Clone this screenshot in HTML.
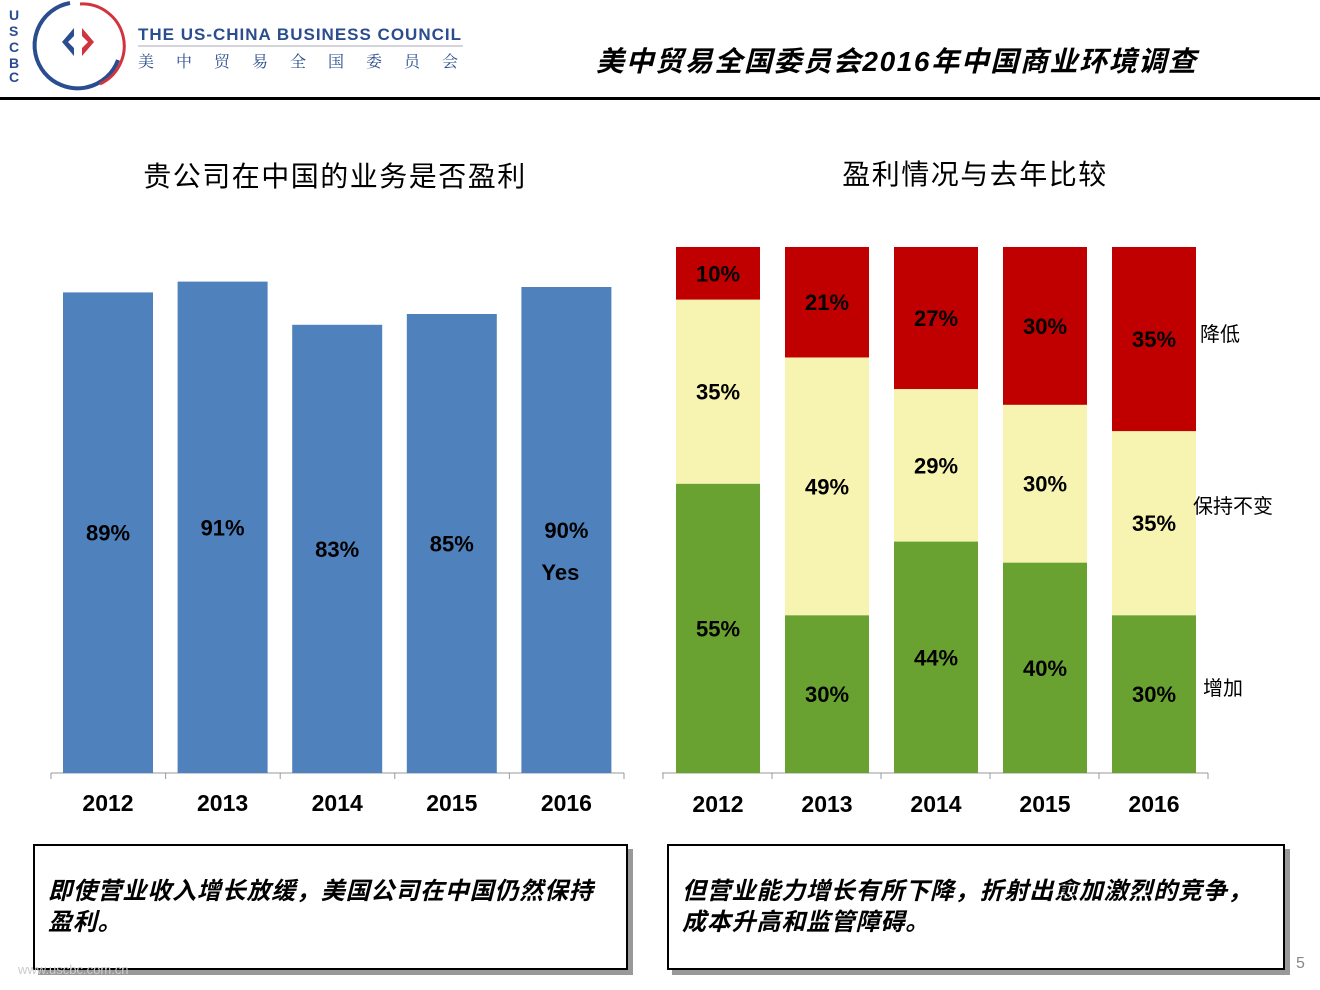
<!DOCTYPE html>
<html><head><meta charset="utf-8"><style>
body{margin:0;width:1320px;height:990px;background:#fff;overflow:hidden;position:relative;font-family:"Liberation Sans","Noto Sans CJK SC",sans-serif}
.abs{position:absolute}
.box{position:absolute;border:2px solid #000;box-shadow:5px 5px 0 #999;background:#fff;font-style:italic;font-weight:bold;font-size:24px;line-height:31px;padding:30px 12px 0 13px;box-sizing:border-box;letter-spacing:0.8px}
</style></head><body>
<div class="abs" style="left:0;top:0;width:470px;height:95px">
<svg width="470" height="95">
<text x="9" y="20" font-size="14" font-weight="bold" fill="#2a4d8f" font-family="Liberation Sans">U</text>
<text x="9" y="36" font-size="14" font-weight="bold" fill="#2a4d8f" font-family="Liberation Sans">S</text>
<text x="9" y="52" font-size="14" font-weight="bold" fill="#2a4d8f" font-family="Liberation Sans">C</text>
<text x="9" y="68" font-size="14" font-weight="bold" fill="#2a4d8f" font-family="Liberation Sans">B</text>
<text x="9" y="82" font-size="14" font-weight="bold" fill="#2a4d8f" font-family="Liberation Sans">C</text>
<path d="M70 3 A43 43 0 1 0 118 60" fill="none" stroke="#2a4d8f" stroke-width="4"/>
<path d="M80 4 A42 42 0 0 1 100 84" fill="none" stroke="#d0343f" stroke-width="3"/>
<path d="M74 28 L62 42 L74 56 L74 48 L68 42 L74 36Z" fill="#2a4d8f"/>
<path d="M82 28 L94 42 L82 56 L82 48 L88 42 L82 36Z" fill="#d0343f"/>
<text x="138" y="40" font-size="17" font-weight="bold" fill="#2a4d8f" font-family="Liberation Sans" letter-spacing="1">THE US-CHINA BUSINESS COUNCIL</text>
<line x1="138" y1="46" x2="463" y2="46" stroke="#aab" stroke-width="1"/>
<text x="138" y="67" font-size="16" fill="#2a4d8f" font-family="Noto Serif CJK SC" letter-spacing="22">美中贸易全国委员会</text>
</svg></div>
<div class="abs" style="left:596px;top:40px;font-size:28px;font-weight:bold;font-style:italic;white-space:nowrap;letter-spacing:1.6px">美中贸易全国委员会2016年中国商业环境调查</div>
<div class="abs" style="left:0;top:97px;width:1320px;height:3px;background:#000"></div>
<div class="abs" style="left:135px;top:155px;width:400px;text-align:center;font-size:28px;letter-spacing:1.5px">贵公司在中国的业务是否盈利</div>
<div class="abs" style="left:775px;top:153px;width:400px;text-align:center;font-size:28px;letter-spacing:1.5px">盈利情况与去年比较</div>
<svg class="abs" style="left:0;top:0" width="1320" height="840" id="ch"></svg>
<div class="box" style="left:33px;top:844px;width:595px;height:126px">即使营业收入增长放缓，美国公司在中国仍然保持<br>盈利。</div>
<div class="box" style="left:667px;top:844px;width:618px;height:126px">但营业能力增长有所下降，折射出愈加激烈的竞争，<br>成本升高和监管障碍。</div>
<div class="abs" style="left:18px;top:962px;font-size:13px;color:#ccc">www.uscbc.com.cn</div>
<div class="abs" style="left:1296px;top:955px;font-size:16px;color:#888">5</div>
<script>
const years=['2012','2013','2014','2015','2016'];
const profitable=[89,91,83,85,90];
const increase=[55,30,44,40,30];
const same=[35,49,29,30,35];
const decrease=[10,21,27,30,35];
const svg=document.getElementById('ch');const NS='http://www.w3.org/2000/svg';
function mk(t,a,txt){const e=document.createElementNS(NS,t);for(const k in a)e.setAttribute(k,a[k]);if(txt!==undefined)e.textContent=txt;svg.appendChild(e);return e;}
const base=773;
const ly=v=>base-v*5.4, lx=i=>63+i*114.6;
mk('line',{x1:51,y1:base,x2:624,y2:base,stroke:'#999'});
profitable.forEach((v,i)=>{
 let r=mk('rect',{x:lx(i),y:ly(v),width:90,height:base-ly(v),fill:'#4f81bd'});
 
 let t=mk('text',{x:lx(i)+45,y:(ly(v)+base)/2+8,'text-anchor':'middle','font-size':22,'font-weight':'bold',fill:'#000'},v+'%');
 
 let y=mk('text',{x:lx(i)+45,y:811,'text-anchor':'middle','font-size':23,'font-weight':'bold'},years[i]);
 
 mk('line',{x1:lx(i)-12,y1:base,x2:lx(i)-12,y2:base+6,stroke:'#999'});
});
mk('line',{x1:624,y1:base,x2:624,y2:base+6,stroke:'#999'});
let yes=mk('text',{x:lx(4)+39,y:580,'text-anchor':'middle','font-size':22,'font-weight':'bold'},'Yes');

const rh=v=>v*5.26, rx=i=>676+i*109;
mk('line',{x1:662,y1:base,x2:1208,y2:base,stroke:'#999'});
years.forEach((yr,i)=>{
 let y0=base;
 [[increase,'#6aa231'],[same,'#f7f3b0'],[decrease,'#c00000']].forEach(([arr,c],k)=>{
  const h=rh(arr[i]);
  let r=mk('rect',{x:rx(i),y:y0-h,width:84,height:h,fill:c});
  
  let t=mk('text',{x:rx(i)+42,y:y0-h/2+8,'text-anchor':'middle','font-size':22,'font-weight':'bold'},arr[i]+'%');
  
  y0-=h;
 });
 let t=mk('text',{x:rx(i)+42,y:812,'text-anchor':'middle','font-size':23,'font-weight':'bold'},yr);
 
 mk('line',{x1:rx(i)-13,y1:base,x2:rx(i)-13,y2:base+6,stroke:'#999'});
});
mk('line',{x1:1208,y1:base,x2:1208,y2:base+6,stroke:'#999'});
[['降低',1200,341],['保持不变',1193,513],['增加',1203,695]].forEach(([s,x,y])=>{
 let t=mk('text',{x:x,y:y,'font-size':20,'font-family':'Noto Sans CJK SC'},s);
 
});
</script>
</body></html>
